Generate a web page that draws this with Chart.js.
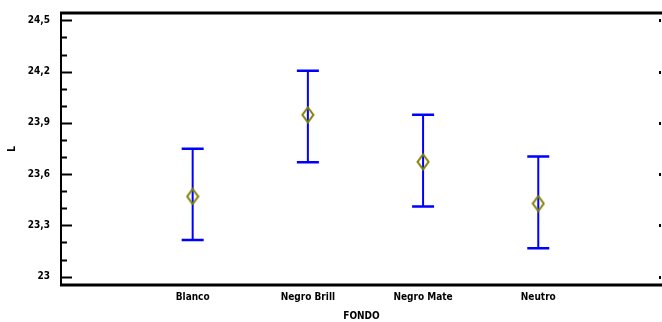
<!DOCTYPE html>
<html>
<head>
<meta charset="utf-8">
<script src="https://cdn.jsdelivr.net/npm/chart.js@4/dist/chart.umd.min.js"></script>
<style>
  html, body { margin: 0; padding: 0; background: #fff; overflow: hidden; }
  canvas { display: block; }
</style>
</head>
<body>
<canvas id="chart" width="662" height="322"></canvas>
<script>
// data
const categories = ['Blanco', 'Negro Brill', 'Negro Mate', 'Neutro'];
const means = [23.469, 23.947, 23.672, 23.428];
const lower = [23.215, 23.670, 23.410, 23.166];
const upper = [23.748, 24.205, 23.947, 23.703];
const majorTicks = [23, 23.3, 23.6, 23.9, 24.2, 24.5];
const minorTicks = [23.1, 23.2, 23.4, 23.5, 23.7, 23.8, 24.0, 24.1, 24.3, 24.4];

const FONT = "'Liberation Sans Narrow', 'Arial Narrow', 'DejaVu Sans Condensed', Arial, sans-serif";

// hollow diamond used as the point style
function makeDiamond() {
    const c = document.createElement('canvas');
    c.width = 14;
    c.height = 18;
    const g = c.getContext('2d');
    g.strokeStyle = '#808000';
    g.lineWidth = 2;
    g.beginPath();
    g.moveTo(7, 1.5);
    g.lineTo(12.5, 9);
    g.lineTo(7, 16.5);
    g.lineTo(1.5, 9);
    g.closePath();
    g.stroke();
    return c;
}

const isMajor = v => majorTicks.some(m => Math.abs(m - v) < 1e-6);

// frame, inside ticks and error bars
const framePlugin = {
    id: 'frame',
    beforeDatasetsDraw(chart) {
        const { ctx, scales } = chart;
        const x = scales.x, y = scales.y;
        ctx.save();

        // error bars
        ctx.strokeStyle = '#0000ff';
        categories.forEach((c, i) => {
            const px = x.getPixelForValue(i + 1);
            const top = y.getPixelForValue(upper[i]);
            const bot = y.getPixelForValue(lower[i]);
            ctx.lineWidth = 2;
            ctx.beginPath();
            ctx.moveTo(px, top);
            ctx.lineTo(px, bot);
            ctx.stroke();
            ctx.lineWidth = 2.5;
            ctx.beginPath();
            ctx.moveTo(px - 11, top);
            ctx.lineTo(px + 11, top);
            ctx.moveTo(px - 11, bot);
            ctx.lineTo(px + 11, bot);
            ctx.stroke();
        });
        ctx.restore();
    },
    afterDraw(chart) {
        const { ctx, chartArea, scales } = chart;
        const y = scales.y;
        ctx.save();
        ctx.strokeStyle = '#000';
        ctx.fillStyle = '#000';

        // top and bottom borders
        ctx.lineWidth = 3;
        ctx.beginPath();
        ctx.moveTo(chartArea.left - 1, chartArea.top);
        ctx.lineTo(chartArea.right, chartArea.top);
        ctx.moveTo(chartArea.left - 1, chartArea.bottom);
        ctx.lineTo(chartArea.right, chartArea.bottom);
        ctx.stroke();

        // left axis
        ctx.lineWidth = 2;
        ctx.beginPath();
        ctx.moveTo(chartArea.left, chartArea.top);
        ctx.lineTo(chartArea.left, chartArea.bottom);
        ctx.stroke();

        // inside tick marks
        y.ticks.forEach(t => {
            const py = Math.round(y.getPixelForValue(t.value)) + 0.5;
            const len = isMajor(t.value) ? 11 : 6;
            ctx.lineWidth = 2;
            ctx.beginPath();
            ctx.moveTo(chartArea.left, py);
            ctx.lineTo(chartArea.left + len, py);
            ctx.stroke();
            if (isMajor(t.value)) {
                ctx.fillRect(chartArea.right - 3, py - 1.5, 2, 3);
            }
        });
        ctx.restore();
    }
};

const chart = new Chart(document.getElementById('chart'), {
    type: 'scatter',
    data: {
        datasets: [{
            data: means.map((m, i) => ({ x: i + 1, y: m })),
            pointStyle: makeDiamond(),
            pointRadius: 8
        }]
    },
    options: {
        responsive: false,
        animation: false,
        devicePixelRatio: 1,
        layout: { autoPadding: false, padding: { top: 13, right: 0, left: 0, bottom: 0 } },
        plugins: {
            legend: { display: false },
            tooltip: { enabled: false }
        },
        scales: {
            x: {
                type: 'linear',
                min: -0.143,
                max: 5.074,
                grid: { display: false, drawTicks: false },
                border: { display: false },
                afterBuildTicks: s => { s.ticks = categories.map((c, i) => ({ value: i + 1 })); },
                afterFit: s => { s.height = 37; s.paddingLeft = 0; s.paddingRight = 0; },
                ticks: {
                    padding: 6,
                    autoSkip: false,
                    maxRotation: 0,
                    color: '#000',
                    font: { family: FONT, size: 10, weight: 'bold' },
                    callback: v => categories[Math.round(v) - 1]
                },
                title: {
                    display: true,
                    text: 'FONDO',
                    color: '#000',
                    padding: { top: 0, bottom: 0 },
                    font: { family: FONT, size: 10, weight: 'bold' }
                }
            },
            y: {
                min: 22.951,
                max: 24.543,
                grid: { display: false, drawTicks: false },
                border: { display: false },
                afterBuildTicks: s => {
                    s.ticks = majorTicks.concat(minorTicks).sort((a, b) => a - b).map(v => ({ value: v }));
                },
                afterFit: s => { s.width = 61; s.paddingTop = 0; s.paddingBottom = 0; },
                ticks: {
                    padding: 11,
                    autoSkip: false,
                    color: '#000',
                    font: { family: FONT, size: 10, weight: 'bold' },
                    callback: v => isMajor(v) ? String(Math.round(v * 10) / 10).replace('.', ',') : ''
                },
                title: {
                    display: true,
                    text: 'L',
                    color: '#000',
                    padding: { top: 6, bottom: 0 },
                    font: { family: FONT, size: 10, weight: 'bold' }
                }
            }
        }
    },
    plugins: [framePlugin]
});
</script>
</body>
</html>
